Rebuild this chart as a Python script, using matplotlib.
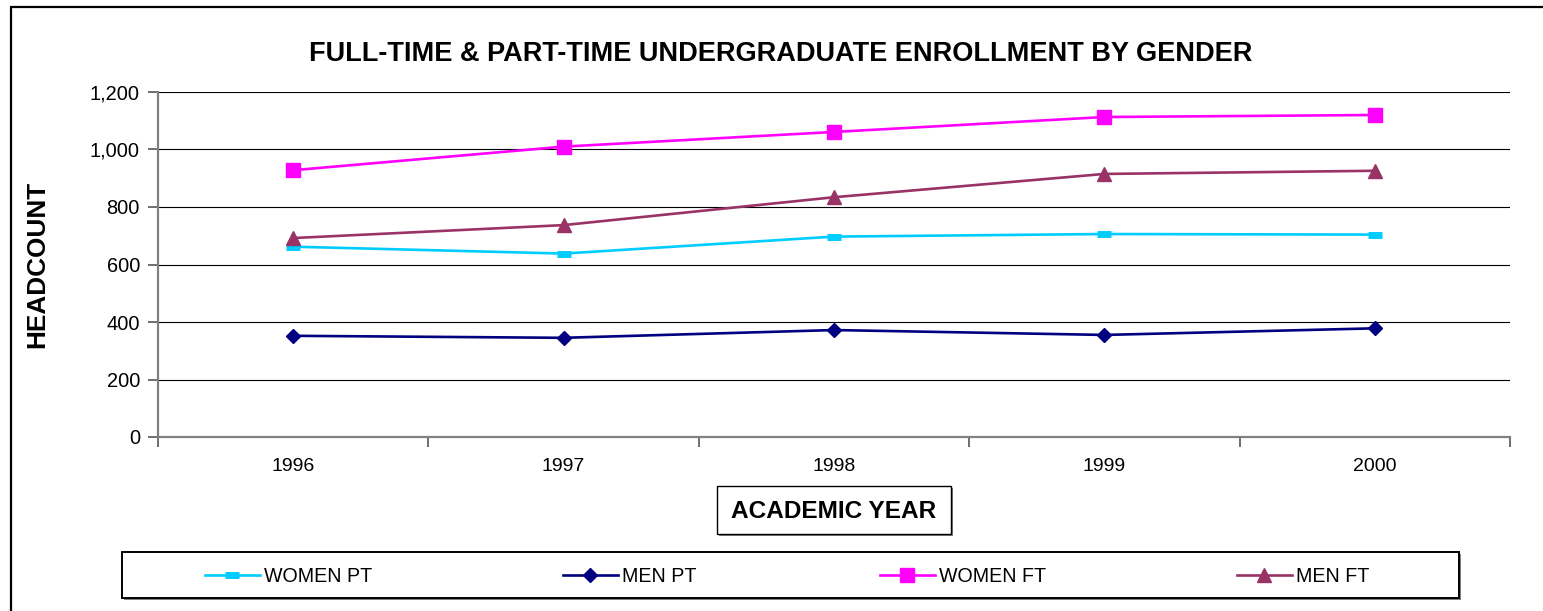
import matplotlib
matplotlib.use("Agg")
import matplotlib.pyplot as plt
from matplotlib.patches import Rectangle
from matplotlib.ticker import FuncFormatter, FixedLocator

years = ["1996", "1997", "1998", "1999", "2000"]
women_pt = [662, 638, 697, 706, 704]
men_pt = [352, 345, 372, 355, 378]
women_ft = [928, 1010, 1061, 1113, 1120]
men_ft = [692, 737, 834, 915, 926]

series_names = ["WOMEN PT", "MEN PT", "WOMEN FT", "MEN FT"]

plt.rcParams["font.family"] = ["Liberation Sans", "DejaVu Sans"]

W, H = 1543, 611
DPI = 100
fig = plt.figure(figsize=(W / DPI, H / DPI), dpi=DPI)
fig.patch.set_facecolor("white")


def fx(px):
    return px / W


def fy(py):
    return 1 - py / H


# outer chart border (extends past right/bottom edges)
fig.patches.append(Rectangle((fx(11), fy(640)), fx(1600) - fx(11), fy(7) - fy(640),
                             transform=fig.transFigure, fill=False,
                             edgecolor="black", linewidth=1.6, zorder=0))

ax = fig.add_axes([fx(158), fy(437), fx(1510) - fx(158), fy(92) - fy(437)])

x = list(range(len(years)))
ax.plot(x, women_pt, color="#00CCFF", lw=1.9, marker="_", ms=10, mew=5,
        label=series_names[0], zorder=3)
ax.plot(x, men_pt, color="#000080", lw=1.9, marker="D", ms=7, mew=1,
        label=series_names[1], zorder=3)
ax.plot(x, women_ft, color="#FF00FF", lw=1.9, marker="s", ms=10, mew=1,
        label=series_names[2], zorder=3)
ax.plot(x, men_ft, color="#993366", lw=1.9, marker="^", ms=10.5, mew=1,
        label=series_names[3], zorder=3)

ax.set_xlim(-0.5, len(years) - 0.5)
ax.set_ylim(0, 1200)
ax.set_yticks(range(0, 1201, 200))
ax.yaxis.set_major_formatter(FuncFormatter(lambda v, p: f"{int(v):,}"))
ax.set_xticks(x)
ax.set_xticklabels(years)
ax.xaxis.set_minor_locator(FixedLocator([i - 0.5 for i in range(len(years) + 1)]))
ax.tick_params(axis="x", which="major", length=0, pad=15, labelsize=14)
ax.tick_params(axis="x", which="minor", length=7, width=1.2, color="#555555", direction="out")
ax.tick_params(axis="y", which="major", length=7, width=1.2, color="#555555",
               direction="out", pad=6, labelsize=14.4)

ax.grid(axis="y", color="black", lw=0.8, zorder=1)
ax.set_axisbelow(True)
for s in ["top", "right"]:
    ax.spines[s].set_visible(False)
for s in ["left", "bottom"]:
    ax.spines[s].set_color("#808080")
    ax.spines[s].set_linewidth(1.6)

# title
fig.text(fx(781), fy(54), "FULL-TIME & PART-TIME UNDERGRADUATE ENROLLMENT BY GENDER",
         ha="center", va="center", fontsize=19.5, fontweight="bold")

# y label
fig.text(fx(37), fy(264), "HEADCOUNT", rotation=90, ha="center", va="center",
         fontsize=18.8, fontweight="bold")

# x label with box
fig.patches.append(Rectangle((fx(719), fy(536)), fx(953) - fx(719), fy(488) - fy(536),
                             transform=fig.transFigure, facecolor="#808080",
                             edgecolor="none", zorder=1))
fig.patches.append(Rectangle((fx(717), fy(534)), fx(951) - fx(717), fy(486) - fy(534),
                             transform=fig.transFigure, facecolor="white",
                             edgecolor="black", linewidth=1.0, zorder=2))
fig.text(fx(834), fy(511), "ACADEMIC YEAR", ha="center", va="center",
         fontsize=17.6, fontweight="bold", zorder=3)

# legend box
fig.patches.append(Rectangle((fx(124), fy(600)), fx(1461) - fx(124), fy(554) - fy(600),
                             transform=fig.transFigure, facecolor="#808080",
                             edgecolor="none", zorder=1))
fig.patches.append(Rectangle((fx(122), fy(598)), fx(1459) - fx(122), fy(552) - fy(598),
                             transform=fig.transFigure, facecolor="white",
                             edgecolor="black", linewidth=1.4, zorder=2))

handles, labels = ax.get_legend_handles_labels()
entry_x = [205, 563, 880, 1237]
for h, lab, ex in zip(handles, labels, entry_x):
    leg = fig.legend([h], [lab], loc="center left", bbox_to_anchor=(fx(ex), fy(576)),
                     frameon=False, fontsize=14.1, handlelength=2.8, handletextpad=0.2,
                     borderpad=0, borderaxespad=0, numpoints=1)
    leg.set_zorder(5)

fig.savefig("out.png", dpi=DPI, facecolor="white")
